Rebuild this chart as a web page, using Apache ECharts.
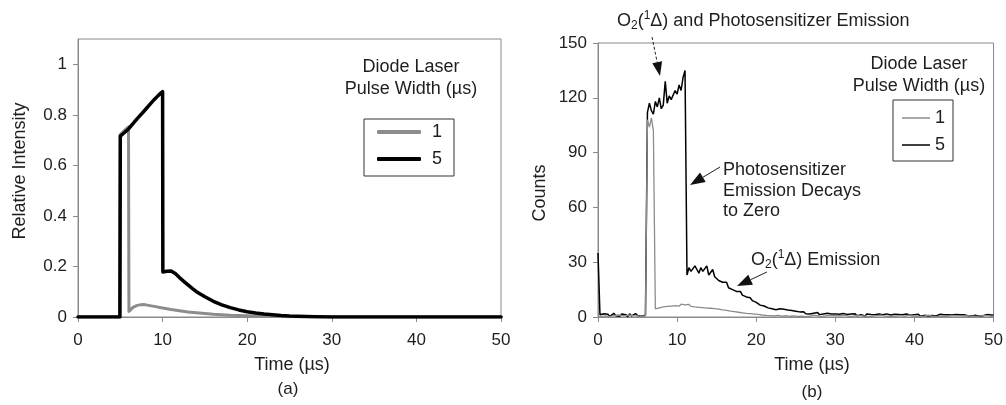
<!DOCTYPE html>
<html><head><meta charset="utf-8">
<script src="https://cdn.jsdelivr.net/npm/echarts@6/dist/echarts.min.js"></script>
<style>html,body{margin:0;padding:0;background:#fff}#c{width:1006px;height:405px}</style>
</head><body><div id="c"></div>
<script>
const FONT = "'Liberation Sans', Arial, sans-serif";
const xTicks = [0, 10, 20, 30, 40, 50];
const leftYTicks = [0, 0.2, 0.4, 0.6, 0.8, 1];
const rightYTicks = [0, 30, 60, 90, 120, 150];
const seriesNames = ['1', '5'];

// (a) Relative intensity, 5 us pulse
const leftT5 = [0, 4.95, 5, 5.5, 6, 6.5, 7, 7.5, 8, 8.5, 9, 9.5, 10, 10.03, 10.5, 11, 11.5, 12, 12.5, 13, 13.5, 14, 15, 16, 17, 18, 19, 20, 21, 22, 23, 24, 25, 26, 27, 28, 30, 50];
const leftV5 = [0, 0, 0.716, 0.73, 0.745, 0.765, 0.785, 0.803, 0.822, 0.841, 0.86, 0.877, 0.892, 0.178, 0.181, 0.182, 0.172, 0.156, 0.141, 0.127, 0.113, 0.1, 0.08, 0.062, 0.048, 0.037, 0.028, 0.021, 0.016, 0.012, 0.009, 0.006, 0.004, 0.003, 0.002, 0.001, 0, 0];
// (a) Relative intensity, 1 us pulse
const leftT1 = [0, 4.95, 5, 5.5, 5.97, 6.02, 6.5, 7, 7.5, 8, 8.5, 9, 10, 11, 12, 13, 14, 15, 16, 17, 18, 20, 22, 24, 26, 28, 30, 50];
const leftV1 = [0, 0, 0.722, 0.738, 0.752, 0.022, 0.038, 0.046, 0.049, 0.048, 0.045, 0.042, 0.036, 0.03, 0.025, 0.02, 0.017, 0.014, 0.011, 0.009, 0.007, 0.005, 0.003, 0.002, 0.001, 0.0005, 0, 0];

// (b) Counts, sampled every 0.25 us from 0 us
const rightT0 = 0;
const rightDt = 0.25;
const rightV5 = [
  35, 1.2, 0.5, 1.8, 0.8, 1.5, 0.3, 1.1, 2.0, 0.7, 1.4, 0.4, 1.6, 0.9, 1.3, 0.2, 1.7, 0.6, 1.0, 1.9,
  0.8, 1.5, 0.4, 1.2, 1.0, 112, 117, 113, 111, 118, 115, 120, 114, 116, 129, 117, 121, 119, 118, 124,
  122, 127, 124, 131, 135, 23, 27, 25, 24, 28, 26, 24, 27, 25, 26, 28, 23, 24, 26, 22,
  22, 20, 21, 19, 18, 19, 16, 17, 15, 16, 14, 13, 14, 12, 12, 11, 10, 10.5, 9, 9.5,
  8, 8.5, 6.5, 7.5, 6, 6.5, 5, 6, 4.5, 5.5, 4, 5, 4.5, 3.5, 4.2, 3.2, 3.8, 3, 3.5, 2.6,
  3.2, 2.4, 2.8, 2, 2.9, 1.8, 2.5, 1.6, 2.3, 2.1, 1.5, 2.4, 1.3, 1.9, 1.7, 1.2, 2.1, 1.4, 1.6, 1.1,
  1.7, 1.1, 1.5, 0.8, 1.9, 1.2, 1.4, 0.9, 1.6, 1.0, 1.8, 0.7, 1.5, 1.2, 1.3, 0.6, 1.7, 1.0, 1.4, 0.9,
  1.2, 0.6, 1.6, 0.9, 1.3, 0.5, 1.7, 1.0, 1.1, 0.4, 1.5, 0.8, 1.4, 0.7, 1.2, 0.5, 1.6, 0.9, 1.0, 0.6,
  1.3, 0.7, 1.5, 0.4, 1.1, 0.9, 1.6, 0.5, 1.2, 0.8, 1.4, 0.6, 1.0, 1.5, 0.7, 1.2, 0.5, 1.3, 0.9, 1.1,
  0.6, 1.4, 0.8, 1.2, 0.5, 1.3, 1.0, 0.7, 1.5, 0.6, 1.1, 0.9, 1.3, 0.4, 1.2, 0.8, 1.0, 1.4, 0.7, 1.1,
  0.9
];
const rightV1 = [
  0.5, 0.9, 0.3, 1.2, 0.6, 0.8, 0.2, 1.0, 0.7, 0.4, 1.1, 0.5, 0.9, 0.3, 0.8, 0.6, 1.0, 0.4, 0.7, 1.2,
  0.6, 0.9, 0.3, 0.8, 0.7, 108, 104, 109, 102, 4.5, 5.5, 5, 6, 5.5, 6.5, 5.8, 6.8, 6, 7, 6.2,
  6.8, 5.9, 7, 6.1, 6.6, 5.7, 6.9, 5.8, 6.4, 5.5, 6.2, 5.3, 6, 5.1, 5.8, 4.9, 5.6, 4.8, 5.3, 4.6,
  5.1, 4.3, 4.8, 3.9, 4.5, 3.6, 4.2, 3.2, 3.8, 2.9, 3.4, 2.6, 3.1, 2.3, 2.8, 2.0, 2.6, 1.8, 2.3, 1.6,
  2.1, 1.4, 1.9, 1.1, 1.7, 0.9, 1.5, 0.8, 1.4, 0.6, 1.3, 0.9, 1.1, 0.5, 1.2, 0.7, 1.0, 0.4, 0.9, 0.6,
  0.8, 0.3, 1.0, 0.5, 0.7, 0.2, 0.9, 0.4, 0.6, 1.0, 0.3, 0.8, 0.5, 0.2, 0.9, 0.6, 0.4, 1.0, 0.3, 0.7,
  0.5, 0.9, 0.2, 0.7, 0.4, 1.0, 0.6, 0.3, 0.8, 0.5, 0.1, 0.9, 0.4, 0.7, 0.3, 0.6, 1.0, 0.2, 0.8, 0.5,
  0.3, 0.7, 0.5, 1.0, 0.2, 0.6, 0.9, 0.4, 0.7, 0.3, 0.8, 0.5, 0.1, 0.9, 0.6, 0.4, 0.7, 1.0, 0.3, 0.5,
  0.8, 0.4, 0.6, 0.2, 0.9, 0.5, 0.3, 1.0, 0.6, 0.4, 0.7, 0.2, 0.8, 0.5, 0.9, 0.3, 0.6, 0.4, 1.0, 0.7,
  0.4, 0.8, 0.3, 0.6, 1.0, 0.5, 0.2, 0.7, 0.9, 0.4, 0.6, 0.3, 0.8, 0.5, 0.1, 0.9, 0.4, 0.7, 0.6, 0.3,
  0.5
];

const GRAY = '#8c8c8c';
const BLACK = '#000000';
const AXIS = '#8a8a8a';
const TXT = '#1e1e1e';

const pairs = (ts, vs) => ts.map((t, i) => [t, vs[i]]);
const sampled = (vs) => vs.map((v, i) => [rightT0 + i * rightDt, v]);

function xAxis(gi) {
  return {
    type: 'value', gridIndex: gi, min: 0, max: 50, interval: 10,
    axisLine: { show: true, onZero: false, lineStyle: { color: AXIS, width: 1 } },
    axisTick: { show: true, inside: false, length: 5, lineStyle: { color: AXIS }, customValues: xTicks },
    axisLabel: { fontSize: 17, color: TXT, fontFamily: FONT, margin: 15, customValues: xTicks },
    splitLine: { show: false }
  };
}
function yAxis(gi, max, interval, ticks) {
  return {
    type: 'value', gridIndex: gi, min: 0, max: max, interval: interval,
    axisLine: { show: true, lineStyle: { color: AXIS, width: 1 } },
    axisTick: { show: true, inside: false, length: 5, lineStyle: { color: AXIS }, customValues: ticks },
    axisLabel: { fontSize: 17, color: TXT, fontFamily: FONT, margin: 11, customValues: ticks },
    splitLine: { show: false }
  };
}

function arrow(x1, y1, x2, y2, headLen, headHalf, dashed) {
  const dx = x2 - x1, dy = y2 - y1;
  const L = Math.sqrt(dx * dx + dy * dy);
  const ux = dx / L, uy = dy / L;
  const bx = x2 - ux * headLen, by = y2 - uy * headLen;
  const px = -uy * headHalf, py = ux * headHalf;
  return [
    { type: 'line', shape: { x1: x1, y1: y1, x2: bx, y2: by }, style: { stroke: '#222', lineWidth: 1, lineDash: dashed ? [3, 2] : null }, silent: true },
    { type: 'polygon', shape: { points: [[x2, y2], [bx + px, by + py], [bx - px, by - py]] }, style: { fill: '#111' }, silent: true }
  ];
}

function txt(x, y, text, opts) {
  return Object.assign({
    type: 'text', x: x, y: y, silent: true,
    style: Object.assign({ text: text, fill: TXT, font: '18px ' + FONT, align: 'center', verticalAlign: 'middle' }, (opts && opts.style) || {})
  }, (opts && opts.el) || {});
}

const richO2 = {
  n: { fontSize: 18, fontFamily: FONT, color: TXT, lineHeight: 22 },
  sub: { fontSize: 12, fontFamily: FONT, color: TXT, lineHeight: 10, verticalAlign: 'bottom' },
  sup: { fontSize: 12, fontFamily: FONT, color: TXT, lineHeight: 10, verticalAlign: 'top' }
};
function richText(x, y, text) {
  return { type: 'text', x: x, y: y, silent: true,
    style: { text: text, rich: richO2, fill: TXT, font: '18px ' + FONT, align: 'left', verticalAlign: 'middle' } };
}

const graphics = [].concat(
  [
    txt(20, 171, 'Relative Intensity', { el: { rotation: Math.PI / 2 } }),
    txt(292, 365, 'Time (µs)'),
    txt(288, 389, '(a)', { style: { font: '17px ' + FONT } }),
    txt(411, 67, 'Diode Laser'),
    txt(411, 89, 'Pulse Width (µs)'),
    txt(540, 193, 'Counts', { el: { rotation: Math.PI / 2 } }),
    txt(812, 365, 'Time (µs)'),
    txt(812, 392, '(b)', { style: { font: '17px ' + FONT } }),
    txt(919, 64, 'Diode Laser'),
    txt(919, 86, 'Pulse Width (µs)'),
    richText(617, 21, '{n|O}{sub|2}{n|(}{sup|1}{n|Δ) and Photosensitizer Emission}'),
    { type: 'text', x: 723, y: 160, silent: true,
      style: { text: 'Photosensitizer\nEmission Decays\nto Zero', fill: TXT, font: '18px ' + FONT, lineHeight: 20.5, align: 'left', verticalAlign: 'top' } },
    richText(751, 260, '{n|O}{sub|2}{n|(}{sup|1}{n|Δ) Emission}')
  ],
  arrow(652, 37, 660, 76, 14, 5, true),
  arrow(720, 167, 690, 185, 15, 5.5, false),
  arrow(767, 272, 737, 286, 15, 5.5, false)
);

const legendCommon = {
  orient: 'vertical', selectedMode: false, borderColor: '#333', borderWidth: 1,
  textStyle: { fontSize: 18, color: TXT, fontFamily: FONT }
};

const option = {
  animation: false,
  backgroundColor: '#ffffff',
  grid: [
    { left: 78, top: 39, width: 423, height: 278, show: true, borderColor: AXIS, borderWidth: 1, containLabel: false },
    { left: 598, top: 43, width: 400, height: 274, show: true, borderColor: AXIS, borderWidth: 1, containLabel: false }
  ],
  xAxis: [xAxis(0), xAxis(1)],
  yAxis: [yAxis(0, 1.1, 0.2, leftYTicks), yAxis(1, 150, 30, rightYTicks)],
  legend: [
    Object.assign({}, legendCommon, {
      left: 364, top: 119, icon: 'roundRect', itemWidth: 44, itemHeight: 4, itemGap: 9,
      padding: [4, 12, 8, 13],
      textStyle: Object.assign({}, legendCommon.textStyle, { padding: [0, 0, 0, 6] }),
      data: [
        { name: seriesNames[0], itemStyle: { color: GRAY, borderWidth: 0 } },
        { name: seriesNames[1], itemStyle: { color: BLACK, borderWidth: 0 } }
      ]
    }),
    Object.assign({}, legendCommon, {
      left: 893, top: 100, icon: 'rect', itemWidth: 28, itemHeight: 1.5, itemGap: 9,
      padding: [9, 8, 7, 9],
      data: [
        { name: seriesNames[0], itemStyle: { color: GRAY, borderWidth: 0 } },
        { name: seriesNames[1], itemStyle: { color: BLACK, borderWidth: 0 } }
      ]
    })
  ],
  series: [
    { name: seriesNames[0], type: 'line', xAxisIndex: 0, yAxisIndex: 0, data: pairs(leftT1, leftV1),
      showSymbol: false, symbol: 'none', color: GRAY, lineStyle: { color: GRAY, width: 3, cap: 'round', join: 'round' } },
    { name: seriesNames[1], type: 'line', xAxisIndex: 0, yAxisIndex: 0, data: pairs(leftT5, leftV5),
      showSymbol: false, symbol: 'none', color: BLACK, lineStyle: { color: BLACK, width: 3.5, cap: 'round', join: 'round' } },
    { name: seriesNames[1], type: 'line', xAxisIndex: 1, yAxisIndex: 1, data: sampled(rightV5),
      showSymbol: false, symbol: 'none', color: BLACK, lineStyle: { color: BLACK, width: 1.5 } },
    { name: seriesNames[0], type: 'line', xAxisIndex: 1, yAxisIndex: 1, data: sampled(rightV1),
      showSymbol: false, symbol: 'none', color: GRAY, lineStyle: { color: GRAY, width: 1.3 } }
  ],
  graphic: graphics
};

const chart = echarts.init(document.getElementById('c'), null, { renderer: 'canvas' });
chart.setOption(option);
</script>
</body></html>
